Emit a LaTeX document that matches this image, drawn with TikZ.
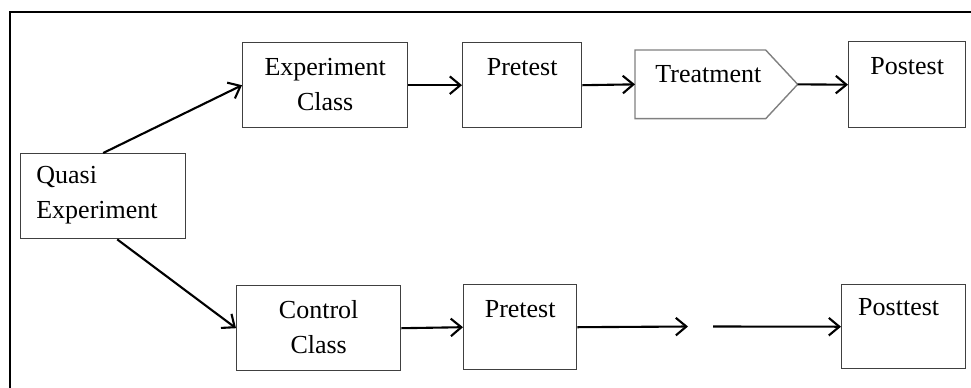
\documentclass[tikz,border=0pt]{standalone}
\usepackage{fontspec}
\setmainfont{Liberation Serif}
\usetikzlibrary{arrows.meta,calc,positioning}

\tikzset{
	stage/.style={draw=black!75, line width=0.8pt, inner sep=0pt, anchor=north west},
	boxtext/.style={font=\fontsize{14.8}{19.9}\selectfont, align=center, inner sep=0pt, anchor=base},
	flow/.style={line width=1.2pt, -{Straight Barb[length=6pt,width=10pt]}}
}

\begin{document}
\begin{tikzpicture}[x=0.02cm,y=-0.02cm]
		\useasboundingbox (0,0) rectangle (971,387);
		\draw[line width=1.1pt] (9.7,395) -- (9.7,11.7) -- (980,11.7);

		% boxes
		\node[stage, minimum width=3.3cm, minimum height=1.7cm] (quasi) at (20,153) {};
		\node[stage, minimum width=3.3cm, minimum height=1.7cm] (exp) at (242,42) {};
		\node[stage, minimum width=2.38cm, minimum height=1.7cm] (pre1) at (462,42) {};
		\node[stage, minimum width=2.34cm, minimum height=1.72cm] (post1) at (848,41) {};
		\node[stage, minimum width=3.28cm, minimum height=1.7cm] (control) at (236,285) {};
		\node[stage, minimum width=2.26cm, minimum height=1.7cm] (pre2) at (463,284) {};
		\node[stage, minimum width=2.48cm, minimum height=1.68cm] (post2) at (841,284) {};

		% treatment
		\node[inner sep=0pt, anchor=north west, minimum width=2.6cm, minimum height=1.36cm] (treat) at (635,50) {};
		\coordinate (treattip) at ($(treat.east)+(32,0)$);
		\draw[draw=black!50, line width=0.8pt] (treat.north west) -- (treat.north east) -- (treattip)
			-- (treat.south east) -- (treat.south west) -- cycle;

		% texts (base = last line)
		\node[boxtext, anchor=base west, align=left] (quasitext) at ($(quasi.north west)+(16,65)$) {Quasi\\Experiment};
		\node[boxtext] (exptext) at ($(exp.north)+(0,68)$) {Experiment\\Class};
		\node[boxtext] (pre1text) at ($(pre1.north)+(0,33)$) {Pretest};
		\node[boxtext] (treattext) at ($(treat.north)+(8,32)$) {Treatment};
		\node[boxtext] (post1text) at ($(post1.north)+(0,33)$) {Postest};
		\node[boxtext] (controltext) at ($(control.north)+(0,68)$) {Control\\Class};
		\node[boxtext] (pre2text) at ($(pre2.north)+(0,33)$) {Pretest};
		\node[boxtext] (post2text) at ($(post2.north)+(-5,31)$) {Posttest};

		% arrows
		\coordinate (gapl) at (688,326.5);
		\coordinate (gapr) at (713,326.5);
		\draw[flow] (quasi.north) -- (exp.west);
		\draw[flow] (quasi.-72) -- (control.west);
		\draw[flow] (exp.east) -- (pre1.west);
		\draw[flow] (pre1.east) -- (treat.west);
		\draw[flow] (treattip) -- (post1.west);
		\draw[flow] (control.east) -- (pre2.west);
		\draw[flow] (pre2.east) -- (gapl);
		\draw[flow] (gapr) -- (post2.west);
	\end{tikzpicture}
\end{document}
